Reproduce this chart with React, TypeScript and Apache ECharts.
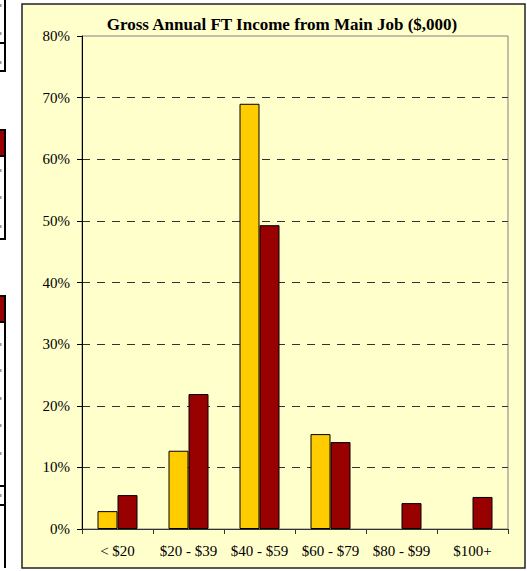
import React, { useEffect, useRef } from "react";
import * as echarts from "echarts";

const categories = ["< $20", "$20 - $39", "$40 - $59", "$60 - $79", "$80 - $99", "$100+"];
const seriesA = [2.9, 12.7, 69.0, 15.4, 0, 0];
const seriesB = [5.5, 21.9, 49.3, 14.1, 4.2, 5.2];
const yTicks = { min: 0, max: 80, interval: 10 };
const titleText = "Gross Annual FT Income from Main Job ($,000)";

const FONT = "'Liberation Serif', 'Times New Roman', serif";

export default function App() {
  const ref = useRef<HTMLDivElement>(null);
  useEffect(() => {
    const chart = echarts.init(ref.current!, null, { renderer: "svg" });
    const frag = (y1: number, y2: number) => ({
      type: "line",
      shape: { x1: 5, y1, x2: 5, y2 },
      style: { stroke: "#000", lineWidth: 2 },
    });
    const hline = (y: number) => ({
      type: "line",
      shape: { x1: 0, y1: y, x2: 6, y2: y },
      style: { stroke: "#000", lineWidth: 2 },
    });
    const dot = (y: number) => ({
      type: "rect",
      shape: { x: 0, y, width: 1.5, height: 3 },
      style: { fill: "#999" },
    });
    const noZero = (arr: number[]) => arr.map((v) => (v === 0 ? null : v));
    chart.setOption({
      animation: false,
      backgroundColor: "#fff",
      graphic: [
        {
          type: "rect",
          z: -10,
          shape: { x: 22, y: 4, width: 503, height: 564 },
          style: { fill: "#FFFFCC", stroke: "#222", lineWidth: 1.5 },
        },
        {
          type: "text",
          x: 282,
          y: 24,
          style: {
            text: titleText,
            font: `bold 17px ${FONT}`,
            fill: "#000",
            textAlign: "center",
            textVerticalAlign: "middle",
          },
        },
        frag(0, 71),
        hline(43),
        hline(71),
        dot(4),
        dot(32),
        dot(61),
        { type: "rect", shape: { x: 0, y: 130, width: 5, height: 26 }, style: { fill: "#990000" } },
        frag(129, 240),
        hline(130),
        hline(156),
        hline(239),
        dot(169),
        dot(196),
        dot(225),
        { type: "rect", shape: { x: 0, y: 296, width: 5, height: 26 }, style: { fill: "#990000" } },
        frag(295, 568),
        hline(296),
        hline(322),
        hline(486),
        hline(505),
        dot(343),
        dot(369),
        dot(397),
        dot(424),
        dot(452),
        dot(494),
      ],
      grid: {
        left: 82,
        top: 36,
        width: 426,
        height: 493,
        show: true,
        borderColor: "#808080",
        borderWidth: 1,
        backgroundColor: "transparent",
      },
      xAxis: {
        type: "category",
        data: categories,
        axisLine: { lineStyle: { color: "#333", width: 1 } },
        axisTick: { show: true, length: 5, lineStyle: { color: "#333" } },
        axisLabel: {
          color: "#000",
          fontFamily: FONT,
          fontSize: 15,
          margin: 14,
          interval: 0,
          hideOverlap: false,
        },
      },
      yAxis: {
        type: "value",
        min: yTicks.min,
        max: yTicks.max,
        interval: yTicks.interval,
        axisLine: { show: true, lineStyle: { color: "#000", width: 1 } },
        axisTick: { show: true, length: 5, lineStyle: { color: "#000" } },
        axisLabel: {
          color: "#000",
          fontFamily: FONT,
          fontSize: 15,
          margin: 12,
          formatter: "{value}%",
        },
        splitLine: {
          show: true,
          showMaxLine: false,
          showMinLine: false,
          lineStyle: { color: "#333", type: [8, 7], width: 1 },
        },
      },
      series: [
        {
          type: "bar",
          data: noZero(seriesA),
          barWidth: 20,
          barGap: "0%",
          itemStyle: { color: "#FFCC00", borderColor: "#000", borderWidth: 1 },
        },
        {
          type: "bar",
          data: noZero(seriesB),
          barWidth: 20,
          barGap: "0%",
          itemStyle: { color: "#990000", borderColor: "#000", borderWidth: 1 },
        },
      ],
    });
    return () => chart.dispose();
  }, []);
  return (
    <div
      ref={ref}
      style={{ position: "fixed", left: 0, top: 0, width: 527, height: 571 }}
    />
  );
}
